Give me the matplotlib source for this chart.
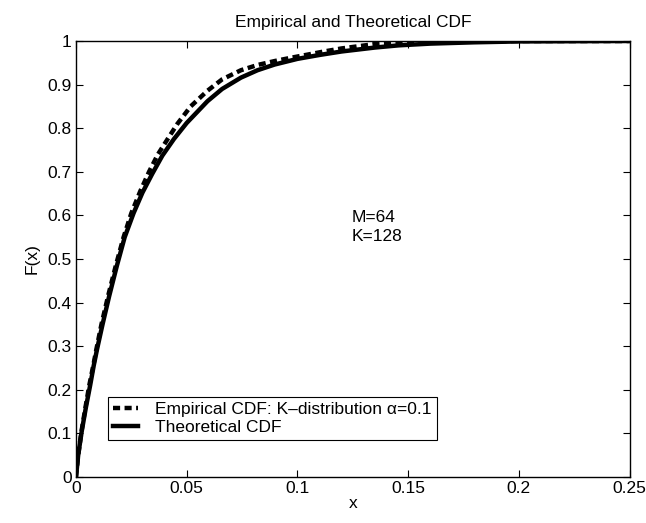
import numpy as np
import matplotlib
matplotlib.use('Agg')
import matplotlib.pyplot as plt

plt.rcParams['font.family'] = ['Liberation Sans', 'DejaVu Sans']

# values
x_theo = [0, 0.001, 0.0026, 0.0045, 0.0064, 0.008, 0.0096, 0.012, 0.015, 0.0185, 0.022,
          0.026, 0.030, 0.0344, 0.039, 0.0442, 0.050, 0.0594, 0.066, 0.0745, 0.082,
          0.0897, 0.1, 0.11, 0.12, 0.135, 0.1457, 0.16, 0.18, 0.2, 0.225, 0.25]
F_theo = [0, 0.05, 0.105, 0.16, 0.21, 0.255, 0.295, 0.35, 0.415, 0.485, 0.55,
          0.605, 0.652, 0.695, 0.737, 0.775, 0.812, 0.862, 0.89, 0.916, 0.933,
          0.946, 0.959, 0.968, 0.976, 0.985, 0.99, 0.994, 0.997, 0.999, 0.9995, 1.0]

x_emp = [0, 0.001, 0.0025, 0.0043, 0.006, 0.0078, 0.0093, 0.0115, 0.0145, 0.018, 0.0215,
         0.025, 0.029, 0.033, 0.037, 0.041, 0.0458, 0.0518, 0.0594, 0.066, 0.0745,
         0.082, 0.0897, 0.0975, 0.1048, 0.112, 0.12, 0.135, 0.15, 0.17, 0.2, 0.25]
F_emp = [0, 0.05, 0.105, 0.16, 0.21, 0.255, 0.295, 0.35, 0.415, 0.485, 0.55,
         0.605, 0.655, 0.7, 0.74, 0.772, 0.81, 0.85, 0.886, 0.912, 0.933,
         0.945, 0.954, 0.962, 0.969, 0.976, 0.983, 0.993, 0.997, 0.999, 1.0, 1.0]

xticks = [0, 0.05, 0.1, 0.15, 0.2, 0.25]
xlabels = ['0', '0.05', '0.1', '0.15', '0.2', '0.25']
yticks = [0, 0.1, 0.2, 0.3, 0.4, 0.5, 0.6, 0.7, 0.8, 0.9, 1]
ylabels = ['0', '0.1', '0.2', '0.3', '0.4', '0.5', '0.6', '0.7', '0.8', '0.9', '1']

fs = 12.5

fig = plt.figure(figsize=(6.46, 5.23), dpi=100)
ax = fig.add_axes([0.1176, 0.088, 0.857, 0.8336])

ax.plot(x_emp, F_emp, color='black', lw=3.2, dashes=(1.6, 1.0),
        label='Empirical CDF: K\u2013distribution \u03b1=0.1')
ax.plot(x_theo, F_theo, color='black', lw=3.2, label='Theoretical CDF')

ax.set_xlim(0, 0.25)
ax.set_ylim(0, 1)
ax.set_xticks(xticks)
ax.set_xticklabels(xlabels)
ax.set_yticks(yticks)
ax.set_yticklabels(ylabels)
ax.tick_params(direction='in', top=True, right=True, labelsize=fs, length=5, pad=3)
for s in ax.spines.values():
    s.set_linewidth(1.0)

ax.set_title('Empirical and Theoretical CDF', fontsize=fs, pad=10)
ax.set_xlabel('x', fontsize=fs, labelpad=0)
ax.set_ylabel('F(x)', fontsize=fs, labelpad=6)

ax.text(0.1245, 0.573, 'M=64\nK=128', fontsize=fs, va='center', ha='left', linespacing=1.35)

leg = ax.legend(loc='lower left', bbox_to_anchor=(0.058, 0.085), borderaxespad=0,
                fontsize=fs, fancybox=False, framealpha=1, edgecolor='black',
                handlelength=1.4, handletextpad=1.0, borderpad=0.3, labelspacing=0.15)
leg.get_frame().set_linewidth(0.8)

fig.savefig('out.png', dpi=100)
